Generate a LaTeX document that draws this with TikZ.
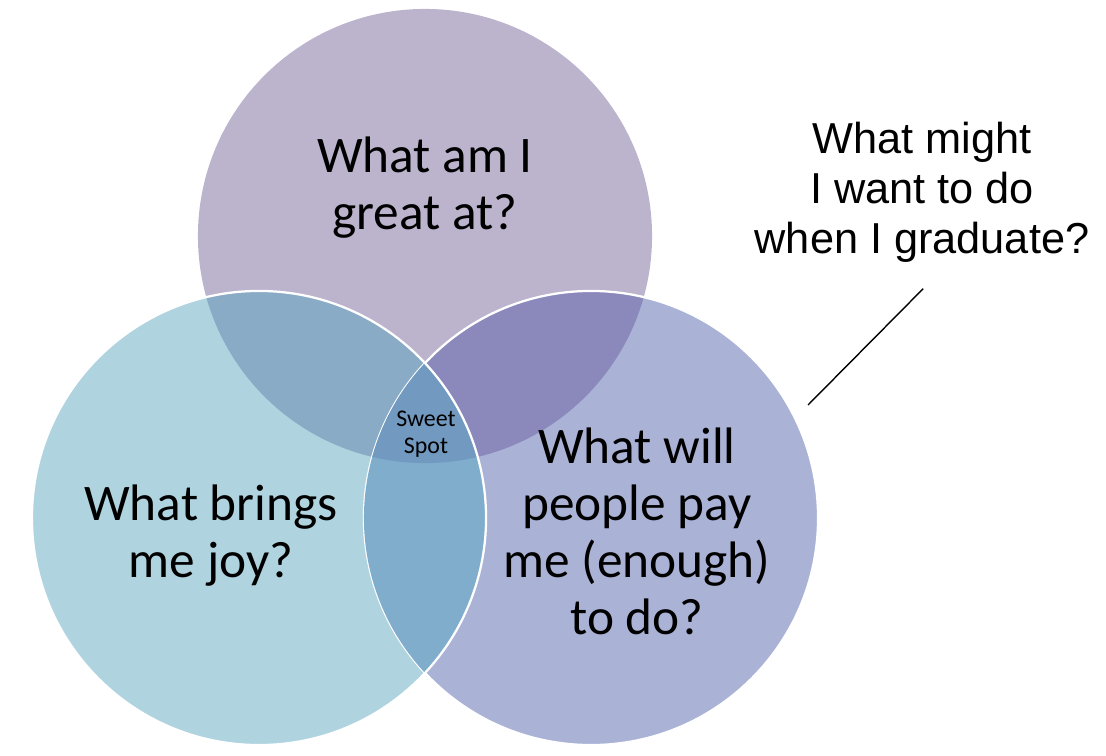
\documentclass[tikz,border=0pt]{standalone}
\usepackage{fontspec}
\setmainfont{Carlito}
\newfontfamily\askfont{Liberation Sans}
\definecolor{greatC}{HTML}{BCB3CD}
\definecolor{joyC}{HTML}{AFD4E0}
\definecolor{payC}{HTML}{AAB3D6}
\definecolor{greatjoyC}{HTML}{8AABC5}
\definecolor{greatpayC}{HTML}{8B89BC}
\definecolor{joypayC}{HTML}{80ADCC}
\definecolor{sweetC}{HTML}{7299BF}
\begin{document}
\begin{tikzpicture}[x=0.025cm,y=-0.025cm,
    circtext/.style={align=center,inner sep=0pt,font=\fontsize{36.5}{40.5}\selectfont},
    rim/.style={draw=white,line width=1.6pt}]
    \useasboundingbox (0,0) rectangle (1106,756);
    \def\rad{5.675cm}
    \coordinate (great) at (425,236);
    \coordinate (joy) at (259,518);
    \coordinate (pay) at (591,518);

    % circles
    \fill[greatC] (great) circle[radius=\rad];
    \fill[payC] (pay) circle[radius=\rad];
    \fill[joyC] (joy) circle[radius=\rad];
    \begin{scope}
        \clip (great) circle[radius=\rad];
        \fill[greatpayC] (pay) circle[radius=\rad];
        \fill[greatjoyC] (joy) circle[radius=\rad];
    \end{scope}
    \draw[rim] (pay) circle[radius=\rad];
    \begin{scope}
        \clip (joy) circle[radius=\rad];
        \fill[joypayC] (pay) circle[radius=\rad];
        \clip (pay) circle[radius=\rad];
        \fill[sweetC] (great) circle[radius=\rad];
    \end{scope}
    \draw[rim] (joy) circle[radius=\rad];

    % labels
    \node (greatq) [circtext] at (425,188) {What am I\\great at?};
    \node (joyq) [circtext] at (211,536) {What brings\\me joy?};
    \node (payq) [circtext] at (637,531) {What will\\people pay\\me (enough)\\to do?};
    \node (sweet) [align=center, inner sep=0pt, font=\fontsize{17}{19.2}\selectfont] at (426,434) {Sweet\\Spot};
    \node (ask) [align=center, inner sep=0pt, font=\askfont\fontsize{30.8}{35.6}\selectfont] at (922,192) {What might\\I want to do\\when I graduate?};

    \coordinate (tip) at (808,405);
    \draw[line width=1pt, shorten >=0.92cm] (tip) -- (ask.-69);
\end{tikzpicture}
\end{document}
